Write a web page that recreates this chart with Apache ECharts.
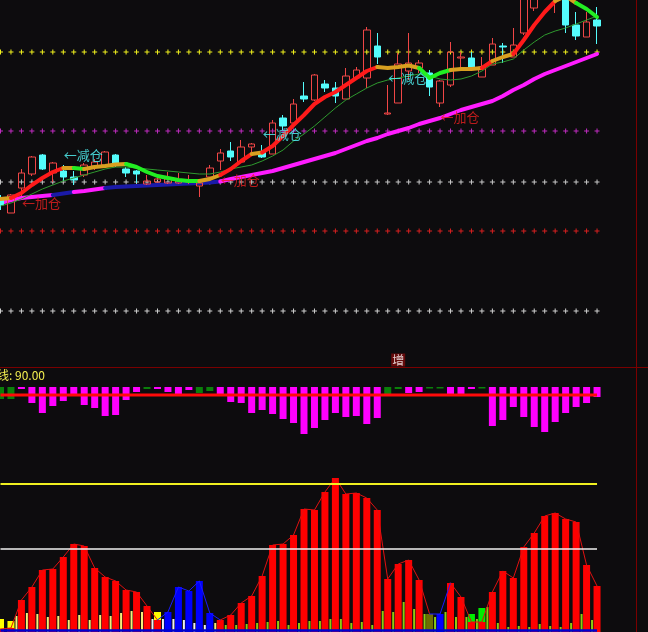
<!DOCTYPE html>
<html><head><meta charset="utf-8">
<script src="https://cdn.jsdelivr.net/npm/echarts/dist/echarts.min.js"></script>
<style>html,body{margin:0;padding:0;background:#0d0c0e;}#c{width:648px;height:632px;}</style>
</head><body><div id="c"></div>
<script>
// ---------- categories (58 bars + 4 empty slots) ----------
const categories = ['01','02','03','04','05','06','07','08','09','10','11','12','13','14','15','16','17','18','19','20',
'21','22','23','24','25','26','27','28','29','30','31','32','33','34','35','36','37','38','39','40',
'41','42','43','44','45','46','47','48','49','50','51','52','53','54','55','56','57','58','59','60','61','62'];

// ---------- price panel ----------
const candleOpen  = [169,154,179,193,212,194,196,190,192,201,202,212,198,196,183,185,184,184,185,181,190,206,216,205,220,215,213,249,244,271,267,283,279,268,289,289,321,253,264,296,299,294,264,282,309,309,290,302,321,310,334,359,377,370,372,342,330,347];
const candleClose = [162,172,194,210,198,204,190,187,202,205,215,204,194,193,186,188,188,187,186,184,199,214,210,220,223,210,244,241,263,268,292,279,271,291,297,337,310,254,303,304,304,280,286,315,310,299,300,323,320,322,372,382,407,397,342,331,345,341];
const candleLow   = [157,154,171,191,197,185,186,182,190,197,201,200,190,184,182,184,183,183,183,170,187,197,206,205,212,209,213,237,244,265,266,275,264,268,289,279,303,252,264,287,294,271,260,280,300,297,290,302,304,310,332,356,372,354,334,327,330,323];
const candleHigh  = [172,173,198,211,213,205,202,196,204,208,216,213,200,197,192,190,195,194,192,184,202,218,225,227,224,222,247,252,268,285,293,287,285,299,300,340,334,282,314,334,307,297,287,325,315,315,310,329,324,339,377,387,412,402,375,355,355,360];

const trendLine = [168,169,174,182,189,195,199,199,198,200,201,202.5,203,200,195,191,189,187,186,186,188,192,198,206,213,214.5,221,231,242,252,263,270,275,282,289,296,300,299,300,301.5,299,289,294,297,298,298,299,306,310,313,327,342,355,366,371,364,358,350];
// state of the trend line on each bar: 1 rising, 0 flat, -1 falling
const trendState = [0,0,1,1,1,1,1,0,-1,0, 0,0,0,-1,-1,-1,-1,-1,-1,-1, 0,0,1,1,1,0,1,1,1,1, 1,1,1,1,1,1,1,0,0,0, 0,-1,-1,-1,0,0,0,1,0,0, 1,1,1,1,0,0,-1,-1];
const midLine = [161,164,168,173,178,182,186,189,192,195,198,200,200,199,198,197,196,195,194,193,193,195,198,200,202,206,211,217,226,233,241,250,259,267,273,279,284,287,289,291,293,291,288,287,288,291,296,303,305,308,317,325,332,336,339,343,347,351];
const longLine = [164,167,169,170,171,172,173.5,175,176,177.5,179,180,180.5,181,181.5,182,182.5,183,183.5,184,184.5,185.5,188,190,192,194,196,199,202,205,208,211,214,218,222,226,229,233,236,239,243,246,249,253,257,260,263,266,271,277,282,288,293,297,301,305,309,313];
// 1 rising, 0 flat
const longState = [1,1,1,1,1,1,0,0,1,1, 1,0,0,0,0,0,0,0,0,0, 0,0,1,1,1,1,1,1,1,1, 1,1,1,1,1,1,1,1,1,1, 1,1,1,1,1,1,1,1,1,1, 1,1,1,1,1,1,1,1];
const priceLevels = [315, 236, 185, 136, 56];

const reduceAt = [6, 25, 37];
const reducePrice = [212, 233, 289];
const addAt = [2, 21, 42];
const addPrice = [164, 187, 250];
const boostAt = 38;

// ---------- middle panel ----------
const midBars = [-12,-12,-2,-16,-26,-19,-14,-7,-18,-21,-29,-28,-13,-5,-2,-2,-5,-7,-3,-6,-4,-7,-15,-16,-26,-23,-27,-32,-36,-47,-41,-33,-26,-30,-29,-37,-31,-7,-2,-6,-5,-1.5,-1.5,-8,-8,-2,-1.5,-39,-33,-20,-30,-40,-45,-35,-26,-20,-16,-10];
const midRising = [1,1,0,0,0,0,0,0,0,0, 0,0,0,0,1,0,0,0,0,1, 1,0,0,0,0,0,0,0,0,0, 0,0,0,0,0,0,0,1,1,0, 0,1,1,0,0,0,1,0,0,0, 0,0,0,0,0,0,0,0];
const midLevel = -8;
const midTitle = '线: 90.00';

// ---------- bottom panel ----------
const lowMain = [3,4,32,45,62,63,75,88,86,64,55,51,42,40,26,12,20,45,41,51,19,12,17,29,36,56,87,88,97,123,122,140,154,138,139,134,122,53,68,72,52,18,18,49,35,10,10,40,61,54,85,99,116,119,113,110,67,46];
// 0 red, 1 blue, 2 olive
const lowType = [0,0,0,0,0,0,0,0,0,0, 0,0,0,0,0,0,1,1,1,1, 1,0,0,0,0,0,0,0,0,0, 0,0,0,0,0,0,0,0,0,0, 0,2,1,0,0,0,0,0,0,0, 0,0,0,0,0,0,0,0];
const signalAt = [0, 1, 15, 45, 46];
const signalValue = [13, 11, 20, 18, 24];
const signalKind = ['y', 'y', 'y', 'g', 'g'];
const thinBars = ['-','-',16,19,18,15,16,12,17,12,17,16,19,21,20,13,13,13,12,9,7,9,7,7,8,9,10,11,7,9,11,11,13,13,9,10,7,21,20,30,23,18,15,20,15,15,13,25,9,5,6,5,8,6,5,9,18,12];
// 0 pale yellow, 1 white, 2 yellow-green
const thinType = [0,0,0,0,0,0,0,0,0,0, 0,0,0,0,0,1,1,1,1,1, 1,0,2,2,2,2,2,2,2,2, 2,2,2,2,2,2,2,2,2,2, 2,2,2,2,2,2,2,2,2,2, 2,2,2,2,2,2,2,2];
const lowLevels = [148, 83];
const lowBase = 1.5;

// ---------- build ----------
const N = candleOpen.length;
const BG = '#0d0c0e';
const CJK = '"Noto Sans CJK SC", "Noto Sans", sans-serif';
const grids = [
  {left: 0.5, right: 9.1, top: 0, height: 367},
  {left: 0.5, right: 9.1, top: 367, height: 73},
  {left: 0.5, right: 9.1, top: 440, height: 192},
  {left: -4.5, right: 14.1, top: 440, height: 192}
].map(g => Object.assign({outerBoundsMode: 'none', containLabel: false, show: false}, g));
const xAxes = grids.map((g, i) => ({type: 'category', gridIndex: i, data: categories, boundaryGap: false, show: false}));
const yAxes = [
  {gridIndex: 0, min: 0, max: 367},
  {gridIndex: 1, min: -53, max: 20},
  {gridIndex: 2, min: 0, max: 192},
  {gridIndex: 3, min: 0, max: 192}
].map(a => Object.assign({type: 'value', show: false, splitLine: {show: false}}, a));

function runSeries(values, segState, colorOf, base) {
  const out = [];
  let s = 1;
  while (s < values.length) {
    const st = segState[s];
    let e = s;
    while (e + 1 < values.length && segState[e + 1] === st) e++;
    const data = values.map((v, i) => (i >= s - 1 && i <= e ? v : '-'));
    out.push(Object.assign({}, base, {data: data, lineStyle: Object.assign({}, base.lineStyle, {color: colorOf(st)})}));
    s = e + 1;
  }
  return out;
}
const lineBase = (gi, width, z) => ({type: 'line', xAxisIndex: gi, yAxisIndex: gi, symbol: 'none', showSymbol: false,
  connectNulls: false, silent: true, z: z, lineStyle: {width: width, cap: 'round', join: 'round'}});

const series = [];
const crossPath = 'path://M2,0H3V2H5V3H3V5H2V3H0V2H2Z';
const levelColors = ['#f2f21e', '#c02cc0', '#c8c8c8', '#d82020', '#d0d0d0'];
priceLevels.forEach((lv, k) => {
  series.push({type: 'line', xAxisIndex: 0, yAxisIndex: 0, data: candleOpen.map(() => lv), symbol: crossPath,
    symbolSize: 5, showSymbol: true, showAllSymbol: true, silent: true, z: 1,
    lineStyle: {width: 0, opacity: 0}, itemStyle: {color: levelColors[k]}});
});
// long MA
series.push(...runSeries(longLine, longState, st => st === 1 ? '#ff1cff' : '#1a1aa8', lineBase(0, 4, 3)));
// candles
series.push({type: 'candlestick', xAxisIndex: 0, yAxisIndex: 0, barWidth: 7, z: 4, silent: true,
  data: candleOpen.map((o, i) => [o, candleClose[i], candleLow[i], candleHigh[i]]),
  itemStyle: {color: 'transparent', color0: '#54fcfc', borderColor: '#f04646', borderColor0: '#54fcfc', borderWidth: 1}});
// thin MA
series.push(Object.assign(lineBase(0, 1, 5), {data: midLine, lineStyle: {width: 1, color: '#2f9a2f'}}));
// trend line
series.push(...runSeries(trendLine, trendState, st => st === 1 ? '#ff1a1a' : (st === 0 ? '#d8a020' : '#22ee22'), lineBase(0, 4, 6)));
// signal labels
function labelSeries(at, price, text, color) {
  return {type: 'scatter', xAxisIndex: 0, yAxisIndex: 0, clip: false, silent: true, z: 10, symbolSize: 1,
    itemStyle: {color: 'rgba(0,0,0,0)'}, data: at.map((a, i) => [a, price[i]]),
    label: {show: true, position: 'right', distance: 0, formatter: text, color: color, fontSize: 13, fontFamily: CJK}};
}
series.push(labelSeries(reduceAt, reducePrice, '←减仓', '#54fcfc'));
series.push(labelSeries(addAt, addPrice, '←加仓', '#e82020'));
series.push({type: 'scatter', xAxisIndex: 0, yAxisIndex: 0, clip: false, silent: true, z: 10, symbolSize: 1,
  itemStyle: {color: 'rgba(0,0,0,0)'}, data: [[boostAt, 0]],
  label: {show: true, position: 'top', distance: 0, formatter: '增', color: '#ffffff', fontSize: 12, fontFamily: CJK,
    backgroundColor: '#7a0a0a', padding: [1, 1, 0, 1]}});

// middle panel
series.push({type: 'bar', xAxisIndex: 1, yAxisIndex: 1, barWidth: 7, silent: true, z: 2,
  data: midBars.map((v, i) => ({value: v, itemStyle: {color: midRising[i] ? '#0a800a' : '#ff00ff'}}))});
series.push(Object.assign(lineBase(1, 3, 3), {data: midBars.map(() => midLevel), lineStyle: {width: 3, color: '#ff0a0a'}}));

// bottom panel
const sigArr = candleOpen.map(() => '-');
signalAt.forEach((a, k) => { sigArr[a] = {value: signalValue[k], itemStyle: {color: signalKind[k] === 'y' ? '#ffff00' : '#00ee00'}}; });
series.push({type: 'bar', xAxisIndex: 2, yAxisIndex: 2, barWidth: 7, barGap: '-100%', silent: true, z: 2, data: sigArr});
const typeColor = ['#ff0000', '#0000ff', '#6e6e00'];
series.push({type: 'bar', xAxisIndex: 2, yAxisIndex: 2, barWidth: 7, barGap: '-100%', silent: true, z: 3,
  data: lowMain.map((v, i) => ({value: v, itemStyle: {color: typeColor[lowType[i]]}}))});
const thinColor = ['#f4f07a', '#f0f0f0', '#8ccc10'];
series.push({type: 'bar', xAxisIndex: 3, yAxisIndex: 3, barWidth: 2, silent: true, z: 4,
  data: thinBars.map((v, i) => (v === '-' ? '-' : {value: v, itemStyle: {color: thinColor[thinType[i]]}}))});
const lowSeg = lowMain.map((v, i) => (i > 0 && (lowType[i] === 1 || lowType[i - 1] === 1)) ? 1 : 0);
series.push(...runSeries(lowMain, lowSeg, st => st === 1 ? '#1a1aff' : '#e01010', lineBase(2, 1, 5)));
const lowLevelColors = ['#f0f020', '#f0f0f0'];
const lowLevelWidths = [2, 1.5];
lowLevels.forEach((lv, k) => {
  series.push(Object.assign(lineBase(2, lowLevelWidths[k], 6), {data: lowMain.map(() => lv),
    lineStyle: {width: lowLevelWidths[k], color: lowLevelColors[k]}}));
});
series.push(Object.assign(lineBase(2, 2, 6), {data: lowMain.map(() => lowBase), lineStyle: {width: 2.5, color: '#0000d0'}}));

const chart = echarts.init(document.getElementById('c'), null, {renderer: 'canvas'});
chart.setOption({
  backgroundColor: BG,
  animation: false,
  grid: grids,
  xAxis: xAxes,
  yAxis: yAxes,
  series: series,
  graphic: [
    {type: 'line', silent: true, z: 100, shape: {x1: 636.5, y1: 0, x2: 636.5, y2: 632}, style: {stroke: '#7a0000', lineWidth: 1}},
    {type: 'line', silent: true, z: 100, shape: {x1: 0, y1: 367.5, x2: 648, y2: 367.5}, style: {stroke: '#7a0000', lineWidth: 1}},
    {type: 'text', silent: true, z: 100, x: -3, y: 369, style: {text: midTitle, fill: '#f4f050', font: '12px ' + CJK, verticalAlign: 'top', textVerticalAlign: 'top'}}
  ]
});
</script></body></html>
